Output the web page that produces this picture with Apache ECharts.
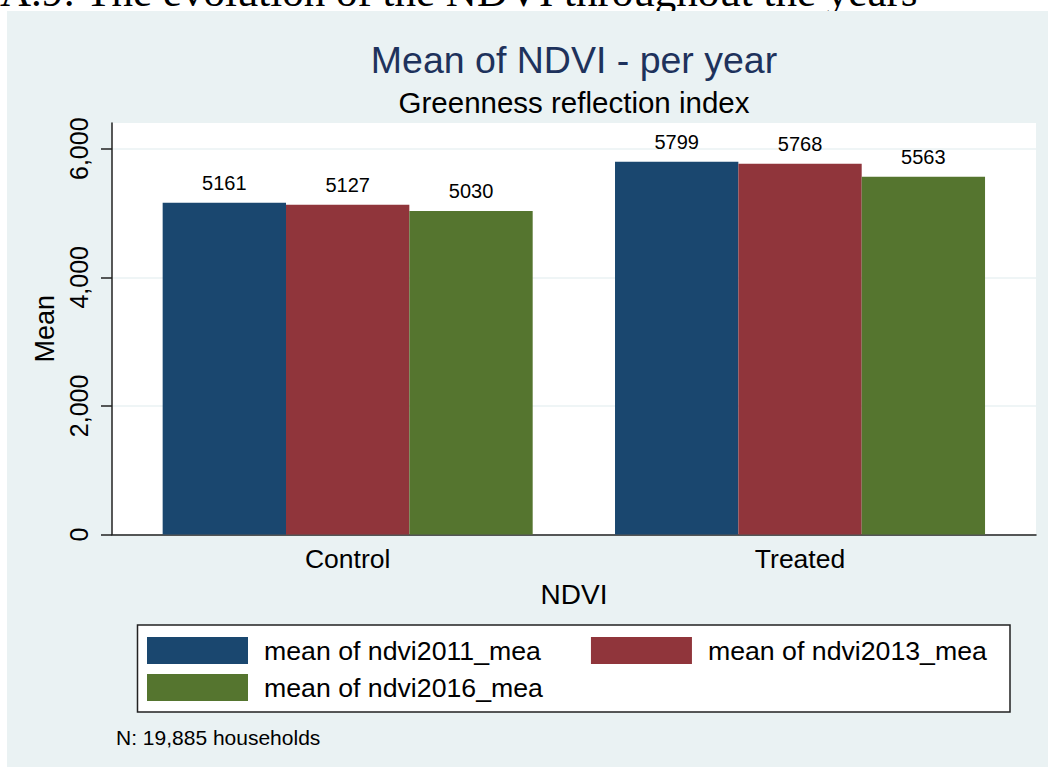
<!DOCTYPE html>
<html>
<head>
<meta charset="utf-8">
<script src="https://cdn.jsdelivr.net/npm/echarts@6/dist/echarts.min.js"></script>
<style>
  html, body { margin: 0; padding: 0; background: #ffffff; }
  #chart { width: 1048px; height: 767px; }
</style>
</head>
<body>
<div id="chart"></div>
<script>
// Mean NDVI per group and year
const categories = ['Control', 'Treated'];
const seriesNames = ['mean of ndvi2011_mea', 'mean of ndvi2013_mea', 'mean of ndvi2016_mea'];
const ndvi2011 = [5161, 5799];
const ndvi2013 = [5127, 5768];
const ndvi2016 = [5030, 5563];
const yTicks = [0, 2000, 4000, 6000];
const yMax = 6400;

const FONT = '"Liberation Sans", Arial, Helvetica, sans-serif';
const colors = ['#1a476f', '#90353b', '#55752f'];
const axisColor = '#222222';

function fmtThousands(v) {
  return String(v).replace(/\B(?=(\d{3})+(?!\d))/g, ',');
}

const chart = echarts.init(document.getElementById('chart'), null, { renderer: 'svg' });

const seriesData = [ndvi2011, ndvi2013, ndvi2016];

const option = {
  backgroundColor: '#eaf2f3',
  animation: false,
  textStyle: { fontFamily: FONT },
  title: [
    {
      text: 'Mean of NDVI - per year',
      left: 574, top: 41, textAlign: 'center', padding: 0,
      textStyle: { fontFamily: FONT, fontSize: 37.5, fontWeight: 'normal', color: '#1e325c' }
    },
    {
      text: 'Greenness reflection index',
      left: 574, top: 87, textAlign: 'center', padding: 0,
      textStyle: { fontFamily: FONT, fontSize: 29.5, fontWeight: 'normal', color: '#000000' }
    }
  ],
  graphic: [
    { type: 'rect', z: 0, shape: { x: 0, y: 0, width: 1048, height: 11 }, style: { fill: '#ffffff' } },
    { type: 'rect', z: 0, shape: { x: 0, y: 0, width: 7, height: 767 }, style: { fill: '#ffffff' } },
    {
      // caption line of the surrounding page, running off the top edge
      type: 'text', z: 0, x: 0, y: 13,
      style: {
        text: 'A.9: The evolution of the NDVI throughout the years',
        font: '43px "Liberation Serif", "Times New Roman", serif',
        fill: '#000000', verticalAlign: 'bottom'
      }
    },
    { type: 'rect', z: 0, shape: { x: 7, y: 11, width: 1041, height: 30 }, style: { fill: '#eaf2f3' } },
    {
      type: 'rect', z: 1,
      shape: { x: 137.5, y: 625, width: 872.5, height: 87 },
      style: { fill: '#ffffff', stroke: axisColor, lineWidth: 1.5 }
    },
    {
      type: 'text', z: 1, x: 116, y: 737,
      style: {
        text: 'N: 19,885 households',
        font: '21px ' + FONT, fill: '#000000', verticalAlign: 'middle'
      }
    }
  ],
  legend: [
    {
      data: seriesNames.slice(0, 2),
      left: 147, top: 637, padding: 0, orient: 'horizontal',
      icon: 'rect', itemWidth: 101, itemHeight: 27, itemGap: 50,
      selectedMode: false, z: 5,
      textStyle: { fontFamily: FONT, fontSize: 26.7, color: '#000000', padding: [0, 0, 0, 11] }
    },
    {
      data: seriesNames.slice(2),
      left: 147, top: 674, padding: 0, orient: 'horizontal',
      icon: 'rect', itemWidth: 101, itemHeight: 27,
      selectedMode: false, z: 5,
      textStyle: { fontFamily: FONT, fontSize: 26.7, color: '#000000', padding: [0, 0, 0, 11] }
    }
  ],
  grid: [
    // plot region frame (white area, axes, gridlines)
    { left: 112, top: 123, width: 924, height: 411.5, show: true, backgroundColor: '#ffffff', borderWidth: 0, containLabel: false },
    // bar region
    { left: 121.5, top: 123, width: 904.7, height: 411.5, containLabel: false }
  ],
  xAxis: [
    {
      gridIndex: 0, type: 'category', data: categories,
      name: 'NDVI', nameLocation: 'middle', nameGap: 46,
      nameTextStyle: { fontFamily: FONT, fontSize: 28, color: '#000000' },
      axisLine: { show: true, lineStyle: { color: axisColor, width: 1.5 } },
      axisTick: { show: false },
      axisLabel: { show: false },
      splitLine: { show: false }
    },
    {
      gridIndex: 1, type: 'category', data: categories,
      axisLine: { show: false },
      axisTick: { show: false },
      axisLabel: { show: true, margin: 11, fontFamily: FONT, fontSize: 26.5, color: '#000000' },
      splitLine: { show: false }
    }
  ],
  yAxis: [
    {
      gridIndex: 0, type: 'value', min: 0, max: yMax, interval: 2000,
      name: 'Mean', nameLocation: 'middle', nameGap: 44, nameRotate: 90,
      nameTextStyle: { fontFamily: FONT, fontSize: 27, color: '#000000' },
      axisLine: { show: true, lineStyle: { color: axisColor, width: 1.5 } },
      axisTick: { show: true, inside: false, length: 11, customValues: yTicks, lineStyle: { color: axisColor, width: 1.5 } },
      axisLabel: {
        show: true, rotate: 90, margin: 21, customValues: yTicks,
        fontFamily: FONT, fontSize: 25, color: '#000000',
        formatter: (v) => fmtThousands(v)
      },
      splitLine: { show: true, lineStyle: { color: '#eaf2f3', width: 1.5 } }
    },
    {
      gridIndex: 1, type: 'value', min: 0, max: yMax, interval: 2000, show: false,
      splitLine: { show: false }
    }
  ],
  series: seriesNames.map((name, i) => ({
    name: name,
    type: 'bar',
    xAxisIndex: 1, yAxisIndex: 1,
    data: seriesData[i],
    barGap: '0%',
    barCategoryGap: '18.2%',
    itemStyle: { color: colors[i] },
    label: {
      show: true, position: 'top', distance: 10,
      fontFamily: FONT, fontSize: 20, color: '#000000',
      formatter: '{c}'
    }
  }))
};

chart.setOption(option);
</script>
</body>
</html>
